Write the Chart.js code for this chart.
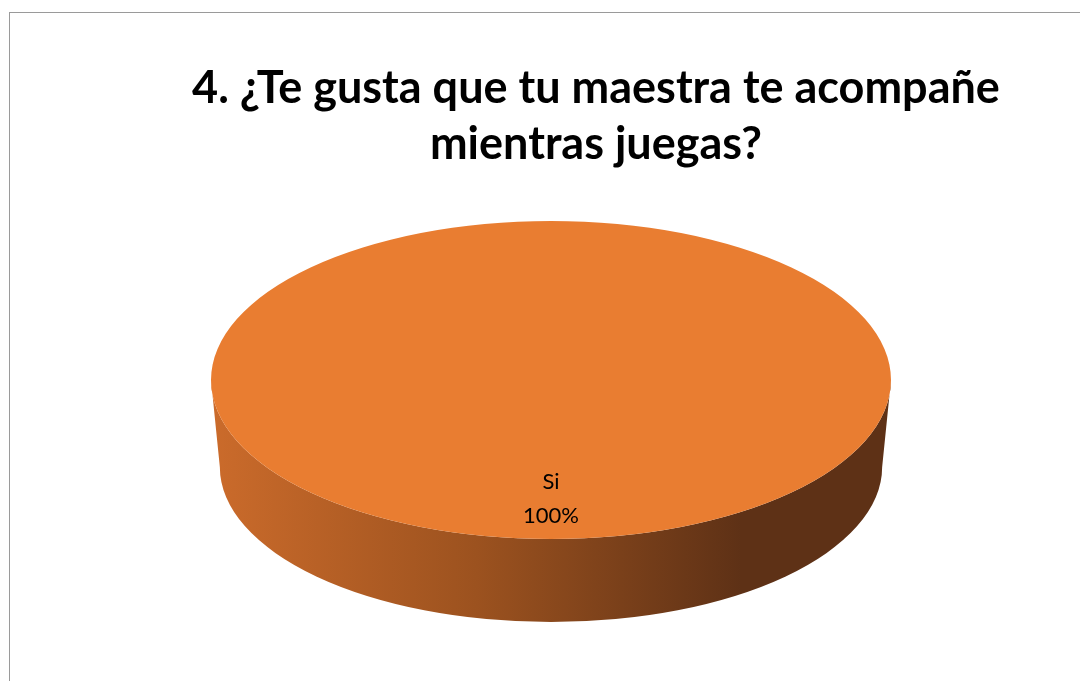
<!DOCTYPE html>
<html>
<head>
<meta charset="utf-8">
<script src="https://cdn.jsdelivr.net/npm/chart.js@4.4.1/dist/chart.umd.min.js"></script>
<style>
  html, body { margin: 0; padding: 0; background: #fff; overflow: hidden; }
</style>
</head>
<body>
<canvas id="myChart" width="1080" height="681"></canvas>
<script>
var titleLines = ['4. ¿Te gusta que tu maestra te acompañe', 'mientras juegas?'];
var categories = ['Si'];
var values = [100];
var sliceColors = ['#E97D31'];

// look of the 3d disc
var tilt = 0.468;    // top face height / width
var depth = 0.256;   // side height, relative to radius
var shrink = 0.974;  // bottom rim a bit smaller (perspective)

var pie3d = {
    id: 'pie3d',
    beforeDraw: function (chart) {
        var ctx = chart.ctx;
        ctx.save();
        ctx.strokeStyle = '#9a9a9a';
        ctx.lineWidth = 1;
        ctx.strokeRect(9.5, 12.5, 2000, 2000);
        ctx.restore();
    },
    beforeDatasetsDraw: function (chart) {
        var ctx = chart.ctx;
        var arc = chart.getDatasetMeta(0).data[0];
        var cx = arc.x, cy = arc.y, r = arc.outerRadius;
        var ry = r * tilt;
        var by = cy + r * depth, br = r * shrink, bry = ry * shrink;

        var g = ctx.createLinearGradient(cx - r, 0, cx + r * 0.56, 0);
        g.addColorStop(0, '#CB6B2B');
        g.addColorStop(0.5, '#9C521F');
        g.addColorStop(1, '#5E3116');

        ctx.save();
        ctx.beginPath();
        ctx.moveTo(cx - r, cy);
        ctx.lineTo(cx - br, by);
        ctx.ellipse(cx, by, br, bry, 0, Math.PI, 0, true);
        ctx.lineTo(cx + r, cy);
        ctx.ellipse(cx, cy, r, ry, 0, 0, Math.PI, false);
        ctx.closePath();
        ctx.fillStyle = g;
        ctx.fill();
        ctx.restore();

        // squash the pie into the top face
        ctx.save();
        ctx.translate(cx, cy);
        ctx.scale(1, tilt);
        ctx.translate(-cx, -cy);
    },
    afterDatasetsDraw: function (chart) {
        var ctx = chart.ctx;
        ctx.restore();

        var meta = chart.getDatasetMeta(0);
        var total = values.reduce(function (a, b) { return a + b; }, 0);
        ctx.save();
        ctx.fillStyle = '#000';
        ctx.font = '22px Lato';
        ctx.textAlign = 'center';
        ctx.textBaseline = 'middle';
        meta.data.forEach(function (arc, i) {
            var a = (arc.startAngle + arc.endAngle) / 2;
            var rr = arc.outerRadius * 0.75;
            var x = arc.x + Math.cos(a) * rr;
            var y = arc.y + Math.sin(a) * rr * tilt;
            var pct = Math.round(values[i] / total * 100) + '%';
            ctx.fillText(categories[i], x, y - 17);
            ctx.fillText(pct, x, y + 17);
        });
        ctx.restore();
    },
    afterDraw: function (chart) {
        var ctx = chart.ctx;
        ctx.save();
        ctx.fillStyle = '#000';
        ctx.font = 'bold 45px Lato';
        ctx.textAlign = 'center';
        ctx.textBaseline = 'alphabetic';
        ctx.fillText(titleLines[0], 596, 103);
        ctx.fillText(titleLines[1], 596, 159);
        ctx.restore();
    }
};

var ctx = document.getElementById('myChart');
var myChart = new Chart(ctx, {
    type: 'pie',
    data: {
        labels: categories,
        datasets: [{
            data: values,
            backgroundColor: sliceColors,
            borderWidth: 0,
            radius: 340,
            clip: false
        }]
    },
    options: {
        responsive: false,
        animation: false,
        events: [],
        layout: {
            padding: { left: 22, right: 0, top: 79, bottom: 0 }
        },
        plugins: {
            legend: { display: false },
            tooltip: { enabled: false },
            title: { display: false }
        }
    },
    plugins: [pie3d]
});
</script>
</body>
</html>
